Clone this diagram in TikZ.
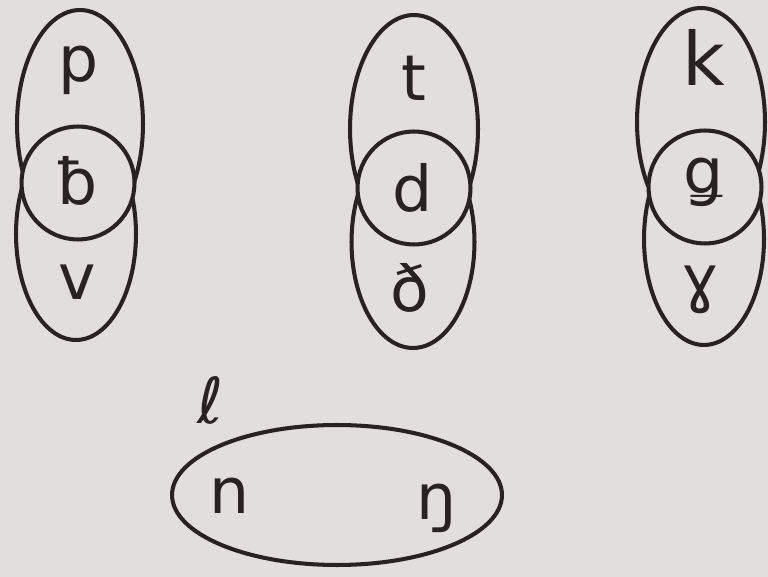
\documentclass[tikz,border=0pt]{standalone}
\usepackage{fontspec}
\setmainfont{DejaVu Sans}
\usetikzlibrary{shapes.geometric}

\definecolor{paper}{RGB}{226,222,219}
\definecolor{ink}{RGB}{40,34,34}

\begin{document}
\begin{tikzpicture}[x=0.02cm,y=-0.02cm,
  loop/.style={draw=ink,line width=2.3pt,ellipse,inner sep=0pt},
  ring/.style={draw=ink,line width=2.3pt,circle,fill=paper,inner sep=0pt,minimum size=2.26cm},
  sound/.style={text=ink,font=\fontsize{36}{40}\selectfont,inner sep=0pt}]

\fill[paper] (0,0) rectangle (768,577);
\useasboundingbox (0,0) rectangle (768,577);

% -------- labial group --------
\begin{scope}
\clip (0,0) rectangle (200,183);
\node[loop,minimum width=2.52cm,minimum height=4.56cm] (labTop) at (80,124) {};
\end{scope}
\begin{scope}
\clip (0,183) rectangle (200,360);
\node[loop,minimum width=2.40cm,minimum height=4.24cm] (labBot) at (76,234) {};
\end{scope}
\node[ring] (labMid) at (78,183) {};
\node[sound] (p) at (79,70) {p};
\node[sound] (bb) at (78,181) {ƀ};
\node[sound] (v) at (77,282) {v};

% -------- dental group --------
\begin{scope}
\clip (300,0) rectangle (520,188);
\node[loop,minimum width=2.56cm,minimum height=4.56cm] (denTop) at (414,129) {};
\end{scope}
\begin{scope}
\clip (300,188) rectangle (520,360);
\node[loop,minimum width=2.46cm,minimum height=4.24cm] (denBot) at (413,242) {};
\end{scope}
\node[ring] (denMid) at (414,188) {};
\node[sound] (t) at (414,78) {t};
\node[sound] (d) at (413,188) {d};
\node[sound] (dh) at (410,288) {ð};

% -------- velar group --------
\begin{scope}
\clip (600,0) rectangle (768,187);
\node[loop,minimum width=2.56cm,minimum height=4.56cm] (velTop) at (701,122) {};
\end{scope}
\begin{scope}
\clip (600,187) rectangle (768,360);
\node[loop,minimum width=2.40cm,minimum height=4.24cm] (velBot) at (704,239) {};
\end{scope}
\node[ring] (velMid) at (705,187) {};
\node[sound,font=\fontsize{42}{46}\selectfont] (k) at (704,57) {k};
\node[sound] (gg) at (704,182) {ǥ};
\node[sound] (gh) at (700,290) {ɣ};

% -------- nasals --------
\node[sound] (l) at (211,400) {ℓ};
\node[loop,minimum width=6.6cm,minimum height=2.8cm] (nasal) at (337,495) {};
\node[sound] (n) at (230,496) {n};
\node[sound] (ng) at (437,508) {ŋ};

\end{tikzpicture}
\end{document}
